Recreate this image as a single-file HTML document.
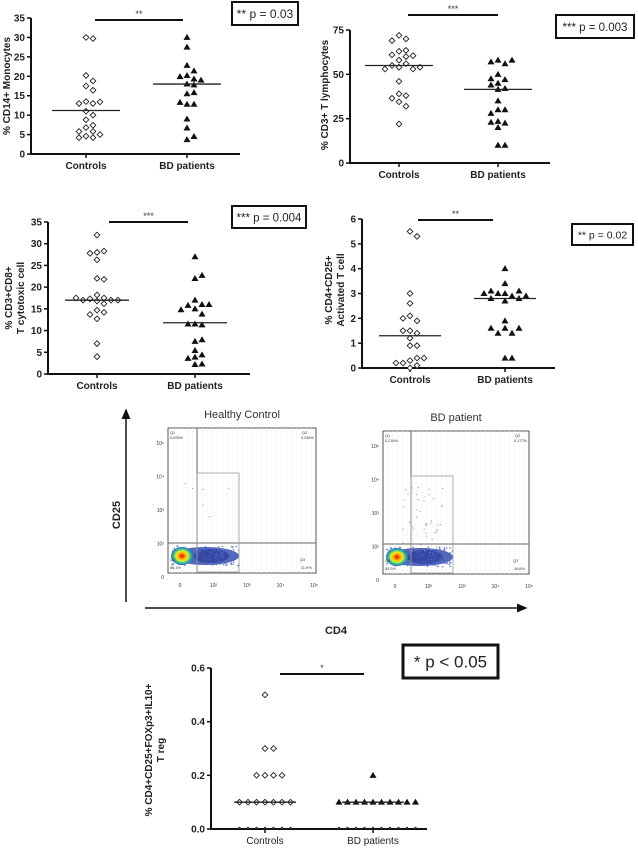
<!DOCTYPE html>
<html><head><meta charset="utf-8"><style>
body{margin:0;background:#fff;width:638px;height:852px;overflow:hidden}
svg{position:absolute;left:0;top:0}
text{font-family:"Liberation Sans",sans-serif}
</style></head><body>
<svg id="fig" width="638" height="852" viewBox="0 0 638 852"></svg>
<script>
// ---- data ----
const categories = ["Controls","BD patients"];
const p1Controls=[30,29.7,20.2,18.8,17.5,16.4,13.5,13,13,13.4,11,10,8.8,7.4,6.8,5.8,4.6,4.2,4.2,5,5.8];
const p1BD=[30,27.5,22.8,21.4,20.2,19.3,19.9,18,17.8,19,15.5,15.8,12.8,12.8,13.3,9,6.7,3.7,4.5];
const p1Medians=[11.2,18];
const p1Ticks=[0,5,10,15,20,25,30,35];
const p2Controls=[72,70,69,63,63.5,61,60,60.5,58,56,55,54,53,53,54,46,39,38,36.5,34.5,32,22];
const p2BD=[58,56,57,58,50,47,47.5,45,44,42,41.5,35,30,30,28,23.5,22.5,23,20,10,10];
const p2Medians=[55,41.5];
const p2Ticks=[0,25,50,75];
const p3Controls=[32,28,28.3,27.8,26.3,22,21.8,18.2,17.5,17.3,17,17,16.8,17,17.5,16.2,14.7,14.2,13.7,12.7,7,4];
const p3BD=[27,22,22.7,17,16,15.8,16,15,14.8,13.8,11.5,11.3,11.5,7.5,7.9,5.4,4.4,3.9,3.6,2.2,2.3];
const p3Medians=[17,11.8];
const p3Ticks=[0,5,10,15,20,25,30,35];
const p4Controls=[5.5,5.3,3,2.6,2.1,1.9,2,1.5,1.4,1.5,1.2,0.9,0.9,0.3,0.4,0.2,0.4,0.1,0,0.2];
const p4BD=[4,3.4,3,2.9,3,3.1,3.1,2.8,2.7,2.8,2.9,3,1.9,1.6,1.4,1.4,1.6,1.6,0.4,0.4];
const p4Medians=[1.3,2.8];
const p4Ticks=[0,1,2,3,4,5,6];
const p5Controls=[0.5,0.3,0.3,0.2,0.2,0.2,0.2,0.1,0.1,0.1,0.1,0.1,0.1,0.1,0,0,0,0,0,0,0];
const p5BD=[0.2,0.1,0.1,0.1,0.1,0.1,0.1,0.1,0.1,0.1,0.1,0,0,0,0,0,0,0,0,0,0];
const p5Medians=[0.1,0.1];
const p5Ticks=[0,0.2,0.4,0.6];
const p5TickLabels=["0.0","0.2","0.4","0.6"];

const NS="http://www.w3.org/2000/svg";
const fig=document.getElementById('fig');
function el(tag,attrs,parent){const e=document.createElementNS(NS,tag);for(const k in attrs)e.setAttribute(k,attrs[k]);(parent||fig).appendChild(e);return e;}
function txt(s,attrs,parent){const t=el('text',attrs,parent);t.textContent=s;return t;}

function swarm(vals,y,cx,spacing){
  const placed=[];const out=[];
  vals.forEach(v=>{
    const py=y(v);let k=0,px=cx;
    while(true){
      const off=k===0?0:(k%2?1:-1)*Math.ceil(k/2)*spacing;
      px=cx+off;
      if(!placed.some(p=>Math.abs(p[0]-px)<spacing-0.5&&Math.abs(p[1]-py)<spacing-1.5))break;
      k++;
    }
    placed.push([px,py]);out.push([px,py,v]);
  });
  return out;
}

function panel(c){
  const g=el('g',{});
  
  
  const y=v=>c.y0-(v-c.ticks[0])/(c.ticks[c.ticks.length-1]-c.ticks[0])*(c.y0-c.yTop);
  const ax=el('path',{d:`M${c.ax},${c.yTop}V${c.y0}H${c.axR}`,stroke:'#111','stroke-width':2,fill:'none'},g);
  
  c.ticks.forEach((t,i)=>{
    el('line',{x1:c.ax-4,x2:c.ax,y1:y(t),y2:y(t),stroke:'#111','stroke-width':1.5},g);
    const tl=txt(c.tickLabels?c.tickLabels[i]:String(t),{x:c.ax-6,y:y(t)+3.5,'font-size':c.fs||10,'text-anchor':'end',fill:'#222','font-weight':'bold'},g);
    
  });
  [c.cx0,c.cx1].forEach((x,i)=>{
    el('line',{x1:x,x2:x,y1:c.y0,y2:c.y0+4,stroke:'#111','stroke-width':1.5},g);
    const l=txt(categories[i],{x:x,y:c.y0+15,'font-size':c.fs||10,'text-anchor':'middle','font-weight':c.light?'normal':'bold',fill:'#222'},g);
    
  });
  const sp=c.sp||7;
  swarm(c.d0,y,c.cx0,sp).forEach(p=>{
    let m;
    if(c.zeroDots&&p[2]===0) m=el('circle',{cx:p[0],cy:p[1]-1,r:1.2,fill:'#333'},g);
    else m=el('rect',{x:p[0]-2,y:p[1]-2,width:4,height:4,fill:'#fff',stroke:'#222','stroke-width':0.9,transform:`rotate(45 ${p[0]} ${p[1]})`},g);
    
  });
  swarm(c.d1,y,c.cx1,sp).forEach(p=>{
    let m;
    if(c.zeroDots&&p[2]===0) m=el('circle',{cx:p[0],cy:p[1]-1,r:1.2,fill:'#333'},g);
    else m=el('path',{d:`M${p[0]},${p[1]-3.5}L${p[0]+3.5},${p[1]+2.5}L${p[0]-3.5},${p[1]+2.5}Z`,fill:'#111'},g);
    
  });
  [c.cx0,c.cx1].forEach((x,i)=>{
    const md=el('line',{x1:x-c.mw,x2:x+c.mw,y1:y(c.med[i]),y2:y(c.med[i]),stroke:'#222','stroke-width':1.3},g);
    
  });
  const sb=el('line',{x1:c.sig[0],x2:c.sig[1],y1:c.sig[2],y2:c.sig[2],stroke:'#111','stroke-width':2},g);
  
  txt(c.stars,{x:(c.sig[0]+c.sig[1])/2,y:c.sig[2]-3,'font-size':9,'text-anchor':'middle',fill:'#333'},g);
  const b=c.box;
  const br=el('rect',{x:b[0],y:b[1],width:b[2],height:b[3],fill:'#fff',stroke:'#111','stroke-width':b[5]||2},g);
  
  txt(b[4],{x:b[0]+b[2]/2,y:b[1]+b[3]/2+(b[6]||4.5),'font-size':b[7]||12,'text-anchor':'middle',fill:'#222'},g);
  const lab=el('text',{transform:`translate(${c.lab[0]},${c.lab[1]}) rotate(-90)`,'font-size':c.lfs||10,'font-weight':'bold','text-anchor':'middle',fill:'#222'},g);
  
  c.labLines.forEach((s,i)=>{const ts=el('tspan',{x:0,dy:i?12:0},lab);ts.textContent=s;});
}

panel({name:'cd14-monocytes-chart',ax:31,yTop:18,y0:154,axR:240,ticks:p1Ticks,cx0:86,cx1:187,d0:p1Controls,d1:p1BD,med:p1Medians,mw:34,
  sig:[95,183,20],stars:'**',box:[232,2,66,23,'** p = 0.03'],lab:[10,86],labLines:['% CD14+ Monocytes']});
panel({name:'cd3-lymphocytes-chart',ax:350,yTop:30,y0:163,axR:550,ticks:p2Ticks,cx0:399,cx1:498,d0:p2Controls,d1:p2BD,med:p2Medians,mw:34,
  sig:[408,498,15],stars:'***',box:[556,15,78,23,'*** p = 0.003',2,4.5,11.5],lab:[328,95],labLines:['% CD3+ T lymphocytes']});
panel({name:'cd8-cytotoxic-chart',ax:48,yTop:222,y0:374,axR:250,ticks:p3Ticks,cx0:97,cx1:195,d0:p3Controls,d1:p3BD,med:p3Medians,mw:32,
  sig:[109,188,222],stars:'***',box:[232,206,74,22,'*** p = 0.004',2,4.5,11.5],lab:[12,298],labLines:['% CD3+CD8+','T cytotoxic cell']});
panel({name:'cd25-activated-chart',ax:362,yTop:219,y0:368,axR:555,ticks:p4Ticks,cx0:410,cx1:505,d0:p4Controls,d1:p4BD,med:p4Medians,mw:31,
  sig:[418,493,220],stars:'**',box:[572,224,61,21,'** p = 0.02',2,4,10.5],lab:[332,290],labLines:['% CD4+CD25+','Activated T cell']});
panel({name:'treg-chart',ax:211,yTop:668,y0:829,axR:427,ticks:p5Ticks,tickLabels:p5TickLabels,cx0:265,cx1:373,d0:p5Controls,d1:p5BD,med:p5Medians,mw:31,sp:8.5,light:true,zeroDots:true,
  sig:[280,364,674],stars:'*',box:[403,645,95,33,'* p < 0.05',3,6,17],lab:[152,750],labLines:['% CD4+CD25+FOXp3+IL10+','T reg']});

// ---- flow cytometry ----
const fg=el('g',{});


el('defs',{},fg).innerHTML='<marker id="ah" markerWidth="8" markerHeight="8" refX="6" refY="4" orient="auto"><path d="M0,1L7,4L0,7Z" fill="#111"/></marker><radialGradient id="blob"><stop offset="0" stop-color="#d00"/><stop offset="0.3" stop-color="#f90"/><stop offset="0.55" stop-color="#ee2"/><stop offset="0.75" stop-color="#3c8"/><stop offset="1" stop-color="#36c"/></radialGradient>';
el('line',{x1:126,y1:602,x2:126,y2:410,stroke:'#111','stroke-width':1.5,'marker-end':'url(#ah)'},fg);
el('line',{x1:145,y1:608,x2:526,y2:608,stroke:'#111','stroke-width':1.5,'marker-end':'url(#ah)'},fg);
txt('CD25',{transform:'translate(120,515) rotate(-90)','font-size':11,'font-weight':'bold','text-anchor':'middle',fill:'#222'},fg);
txt('CD4',{x:336,y:634,'font-size':11,'font-weight':'bold','text-anchor':'middle',fill:'#222'},fg);
let seed=7;function rnd(){seed=(seed*16807)%2147483647;return seed/2147483647;}
function flow(x0,y0,w,h,gx,gy,title,q,spread){
  const g=el('g',{},fg);
  
  
  txt(title,{x:x0+w/2,y:y0-10,'font-size':11,'text-anchor':'middle',fill:'#333'},g);
  el('rect',{x:x0,y:y0,width:w,height:h,fill:'#fff',stroke:'#555','stroke-width':1},g);
  for(let i=1;i<30;i++)el('line',{x1:x0+i*w/30,x2:x0+i*w/30,y1:y0,y2:y0+h,stroke:'#f0f0f0','stroke-width':0.5},g);
  const cy=y0+h-17;
  const left=x0+4,right=gx+42;
  el('ellipse',{cx:(left+right)/2,cy:cy,rx:(right-left)/2,ry:9,fill:'#3a4fb0',opacity:0.85},g);
  el('ellipse',{cx:gx+14,cy:cy,rx:18,ry:7,fill:'#2a3a9a',opacity:0.7},g);
  for(let i=0;i<120;i++){const px=left+rnd()*(right-left),py=cy+(rnd()-0.5)*20;el('circle',{cx:px,cy:py,r:0.7,fill:'#4466cc'},g);}
  for(let i=0;i<spread;i++){const px=gx-12+rnd()*44,py=y0+55+rnd()*(h-75);el('circle',{cx:px,cy:py,r:0.6,fill:'#8899dd'},g);}
  el('ellipse',{cx:x0+14,cy:cy,rx:11,ry:9,fill:'url(#blob)'},g);
  el('line',{x1:gx,x2:gx,y1:y0,y2:y0+h,stroke:'#666','stroke-width':1},g);
  el('line',{x1:x0,x2:x0+w,y1:gy,y2:gy,stroke:'#666','stroke-width':1},g);
  el('rect',{x:gx,y:y0+45,width:42,height:h-46,fill:'none',stroke:'#999','stroke-width':0.8},g);
  const f={'font-size':3.8,fill:'#333'};
  txt('Q1',Object.assign({x:x0+2,y:y0+6},f),g);txt(q[0],Object.assign({x:x0+2,y:y0+11},f),g);
  txt('Q2',Object.assign({x:x0+w-14,y:y0+6},f),g);txt(q[1],Object.assign({x:x0+w-15,y:y0+11},f),g);
  txt('Q4',Object.assign({x:x0+2,y:y0+h-12},f),g);txt(q[2],Object.assign({x:x0+2,y:y0+h-4},f),g);
  txt('Q3',Object.assign({x:x0+w-16,y:y0+h-12},f),g);txt(q[3],Object.assign({x:x0+w-15,y:y0+h-4},f),g);
  const tf={'font-size':5,fill:'#333','text-anchor':'end'};
  ['10⁵','10⁴','10³','10²','0'].forEach((s,i)=>txt(s,Object.assign({x:x0-4,y:y0+17+i*33.5},tf),g));
  ['0','10²','10³','10⁴','10⁵'].forEach((s,i)=>txt(s,Object.assign({x:x0+12+i*33.5,y:y0+h+14,'text-anchor':'middle','font-size':5,fill:'#333'}),g));
}
flow(168,428,148,145,197,543,'Healthy Control',['0,025%','0,036%','88,1%','11,9%'],8);
flow(383,431,146,143,411,544,'BD patient',['0,216%','0,177%','83,0%','16,6%'],45);
</script>
</body></html>
